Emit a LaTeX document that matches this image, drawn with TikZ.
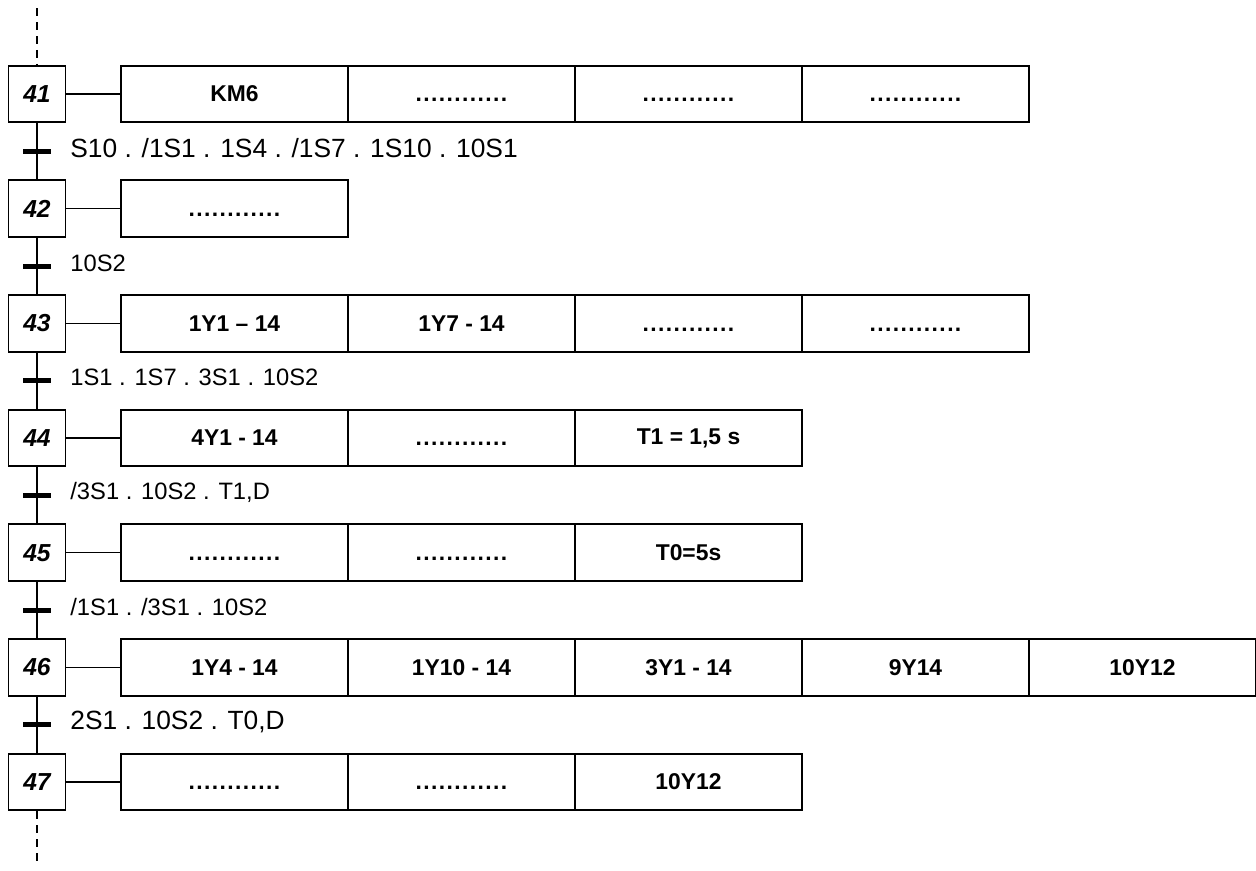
\documentclass[tikz,border=0pt]{standalone}
\usepackage{fontspec}
\setmainfont{Liberation Sans}
\usetikzlibrary{positioning,calc}
\def\dt{.\kern0.8pt}
\def\dotline{\vphantom{0}\dt\dt\dt\dt\dt\dt\dt\dt\dt\dt\dt.}
\begin{document}
\begin{tikzpicture}[x=0.02cm,y=-0.02cm,line width=0.8pt,
    stepbox/.style={draw, line width=1.1pt, minimum width=1.14cm, minimum height=1.13cm,
      inner sep=0pt, font=\fontsize{14}{14}\selectfont\bfseries\itshape},
    actbox/.style={draw, line width=1.1pt, minimum width=4.54cm, minimum height=1.13cm,
      inner sep=0pt, font=\fontsize{13}{13}\selectfont\bfseries},
    bar/.style={fill=black, minimum width=0.56cm, minimum height=0.1cm, inner sep=0pt},
    cond/.style={inner sep=0pt, anchor=west}]
    \useasboundingbox (0,0) rectangle (1256,870);
    % Steps
    \foreach \s [count=\i from 0] in {41,...,47}
        \node[stepbox] (s\s) at (37, 94+114.67*\i) {\s};
    % Actions
    \foreach \s/\acts in {41/{KM6,\dotline,\dotline,\dotline},
                          42/{\dotline},
                          43/{1Y1 – 14,1Y7 - 14,\dotline,\dotline},
                          44/{4Y1 - 14,\dotline,{T1 = 1,5 s}},
                          45/{\dotline,\dotline,T0=5s},
                          46/{1Y4 - 14,1Y10 - 14,3Y1 - 14,9Y14,10Y12},
                          47/{\dotline,\dotline,10Y12}} {
        \foreach \txt [count=\k from 0] in \acts
            \node[actbox] (a\s-\k) at ($(s\s)+(197.5+227*\k,0)$) {\txt};
        \draw (s\s) -- (a\s-0);
    }
    % Transitions
    \foreach \s/\t/\sz/\txt in {41/42/15/{S10 . /1S1 . 1S4 . /1S7 . 1S10 . 10S1},
                                42/43/13.5/{10S2},
                                43/44/13.5/{1S1 . 1S7 . 3S1 . 10S2},
                                44/45/13.5/{/3S1 . 10S2 . T1,D},
                                45/46/13.5/{/1S1 . /3S1 . 10S2},
                                46/47/15/{2S1 . 10S2 . T0,D}} {
        \draw (s\s) -- (s\t);
        \node[bar] (t\s) at ($(s\s)!0.5!(s\t)$) {};
        \node[cond, font=\fontsize{\sz}{\sz}\selectfont, right=0.36cm of t\s, yshift=0.06cm] (c\s) {\txt};
    }
    % Open ends
    \coordinate (top) at (37,8);
    \coordinate (bottom) at (37,866);
    \draw[dash pattern=on 0.16cm off 0.12cm] (top) -- (s41);
    \draw[dash pattern=on 0.16cm off 0.12cm] (s47) -- (bottom);
\end{tikzpicture}
\end{document}
